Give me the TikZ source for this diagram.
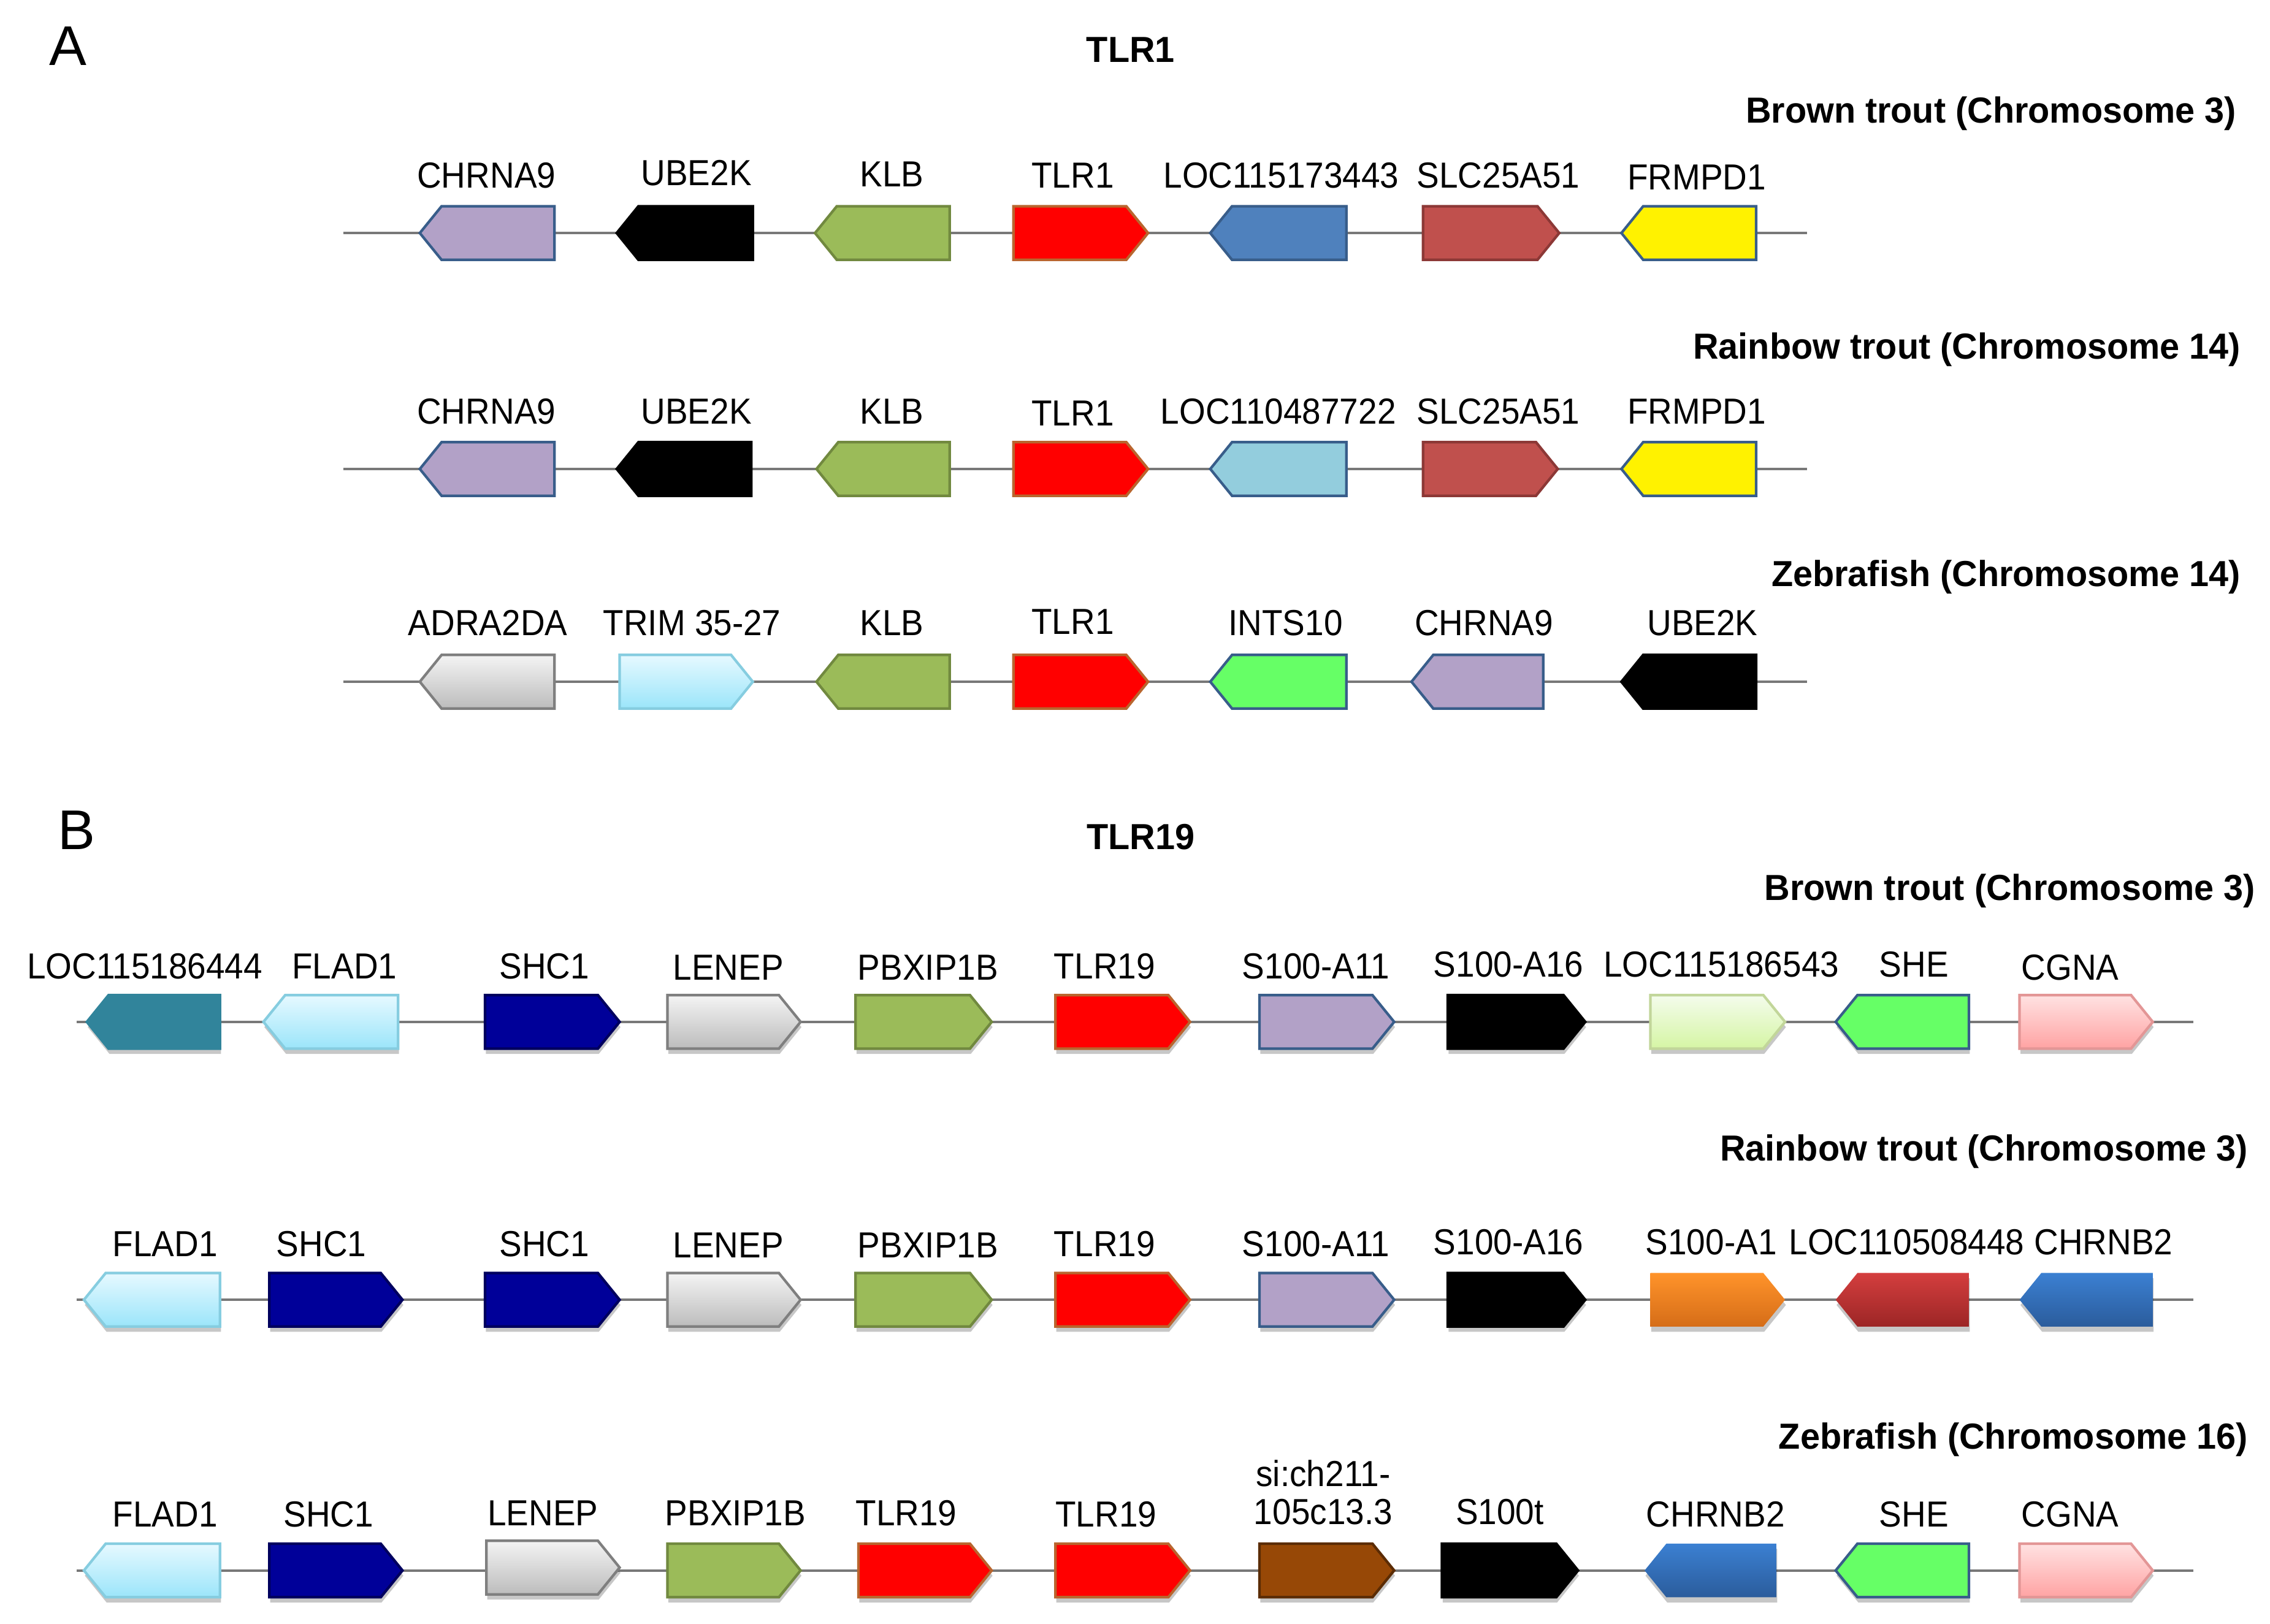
\documentclass[tikz,border=0pt]{standalone}
\usepackage{fontspec}
\setmainfont{Liberation Sans}
\newfontfamily\labfont[FakeStretch=0.93]{Liberation Sans}
\newfontfamily\ttlfont[FakeStretch=0.975]{Liberation Sans}
\usetikzlibrary{shadows}

\definecolor{lav}{HTML}{B2A1C7}
\definecolor{bdblue}{HTML}{385D8A}
\definecolor{klbg}{HTML}{9BBB59}
\definecolor{klbbd}{HTML}{71893F}
\definecolor{tlrbd}{HTML}{B9652E}
\definecolor{locblue}{HTML}{4F81BD}
\definecolor{slc}{HTML}{C0504D}
\definecolor{slcbd}{HTML}{8C3836}
\definecolor{ltblue}{HTML}{93CDDD}
\definecolor{ints}{HTML}{66FF66}
\definecolor{tealc}{HTML}{31849B}
\definecolor{navyc}{HTML}{000099}
\definecolor{navybd}{HTML}{00005E}
\definecolor{brownc}{HTML}{974806}
\definecolor{brownbd}{HTML}{5B2C04}
\definecolor{grayl}{HTML}{F4F4F4}
\definecolor{grayd}{HTML}{BCBCBC}
\definecolor{graybd}{HTML}{7F7F7F}
\definecolor{cyanl}{HTML}{E6F9FF}
\definecolor{cyand}{HTML}{9BE5FA}
\definecolor{cyanbd}{HTML}{86CDE0}
\definecolor{pgreenl}{HTML}{F4FCEC}
\definecolor{pgreend}{HTML}{D5F5A4}
\definecolor{pgreenbd}{HTML}{C2D69A}
\definecolor{pinkl}{HTML}{FFE2E2}
\definecolor{pinkd}{HTML}{FFA3A3}
\definecolor{pinkbd}{HTML}{E39696}
\definecolor{orangel}{HTML}{FF932A}
\definecolor{oranged}{HTML}{D56D18}
\definecolor{redl}{HTML}{D43E3E}
\definecolor{redd}{HTML}{9C2626}
\definecolor{bluel}{HTML}{3B80D2}
\definecolor{blued}{HTML}{2B5C9C}
\definecolor{linegray}{HTML}{787878}

% right-pointing gene: left x, tip x, centre y, style
\newcommand\geneR[4]{\path[#4] (#1,#3-18.5) -- (#2-15,#3-18.5) -- (#2,#3) -- (#2-15,#3+18.5) -- (#1,#3+18.5) -- cycle;}
% left-pointing gene: tip x, right x, centre y, style
\newcommand\geneL[4]{\path[#4] (#1,#3) -- (#1+15,#3-18.5) -- (#2,#3-18.5) -- (#2,#3+18.5) -- (#1+15,#3+18.5) -- cycle;}

\tikzset{
  gb/.style={line width=0.45mm, line join=miter},
  shd/.style={drop shadow={shadow xshift=0.15mm, shadow yshift=-0.9mm, opacity=0.22, fill=black}},
  glav/.style={gb, fill=lav, draw=bdblue},
  gblack/.style={gb, fill=black, draw=black},
  gklb/.style={gb, fill=klbg, draw=klbbd},
  gtlr/.style={gb, fill=red, draw=tlrbd},
  gloc/.style={gb, fill=locblue, draw=bdblue},
  gslc/.style={gb, fill=slc, draw=slcbd},
  gyel/.style={gb, fill=yellow, draw=bdblue},
  gltb/.style={gb, fill=ltblue, draw=bdblue},
  gints/.style={gb, fill=ints, draw=bdblue},
  ggray/.style={gb, top color=grayl, bottom color=grayd, draw=graybd},
  gcyan/.style={gb, top color=cyanl, bottom color=cyand, draw=cyanbd},
  gteal/.style={gb, fill=tealc, draw=tealc},
  gnavy/.style={gb, fill=navyc, draw=navybd},
  gpgreen/.style={gb, top color=pgreenl, bottom color=pgreend, draw=pgreenbd},
  gpink/.style={gb, top color=pinkl, bottom color=pinkd, draw=pinkbd},
  gorange/.style={top color=orangel, bottom color=oranged},
  gdred/.style={top color=redl, bottom color=redd},
  gblue/.style={top color=bluel, bottom color=blued},
  gbrown/.style={gb, fill=brownc, draw=brownbd},
  backbone/.style={draw=linegray, line width=0.42mm},
  lab/.style={font=\labfont\fontsize{17.8}{20}\selectfont, anchor=base, inner sep=0pt},
  ttl/.style={font=\ttlfont\bfseries\fontsize{17.8}{20}\selectfont, anchor=base east, inner sep=0pt},
  hd/.style={font=\ttlfont\bfseries\fontsize{17.8}{20}\selectfont, anchor=base, inner sep=0pt},
  panel/.style={font=\fontsize{27.5}{30}\selectfont, anchor=base, inner sep=0pt}
}

\begin{document}
\begin{tikzpicture}[x=0.25mm, y=-0.25mm]
\useasboundingbox[fill=white] (0,0) rectangle (1568,1122);

% ================= Panel A =================
\node[panel] (pA) at (47,45) {A};
\node[hd] (hA) at (781,43) {TLR1};

% --- Brown trout chr 3
\node[ttl] (tA1) at (1545,85) {Brown trout (Chromosome 3)};
\coordinate (a1s) at (237,161); \coordinate (a1e) at (1248,161);
\draw[backbone] (a1s) -- (a1e);
\geneL{290}{383}{161}{glav}
\geneL{426}{520}{161}{gblack}
\geneL{563}{656}{161}{gklb}
\geneR{700}{793}{161}{gtlr}
\geneL{836}{930}{161}{gloc}
\geneR{983}{1077}{161}{gslc}
\geneL{1120}{1213}{161}{gyel}
\node[lab] (a1n1) at (336,130) {CHRNA9};
\node[lab] (a1n2) at (481,128) {UBE2K};
\node[lab] (a1n3) at (616,129) {KLB};
\node[lab] (a1n4) at (741,130) {TLR1};
\node[lab] (a1n5) at (885,130) {LOC115173443};
\node[lab] (a1n6) at (1035,130) {SLC25A51};
\node[lab] (a1n7) at (1172,131) {FRMPD1};

% --- Rainbow trout chr 14
\node[ttl] (tA2) at (1548,248) {Rainbow trout (Chromosome 14)};
\coordinate (a2s) at (237,324); \coordinate (a2e) at (1248,324);
\draw[backbone] (a2s) -- (a2e);
\geneL{290}{383}{324}{glav}
\geneL{426}{519}{324}{gblack}
\geneL{564}{656}{324}{gklb}
\geneR{700}{793}{324}{gtlr}
\geneL{836}{930}{324}{gltb}
\geneR{983}{1076}{324}{gslc}
\geneL{1120}{1213}{324}{gyel}
\node[lab] (a2n1) at (336,293) {CHRNA9};
\node[lab] (a2n2) at (481,293) {UBE2K};
\node[lab] (a2n3) at (616,293) {KLB};
\node[lab] (a2n4) at (741,294) {TLR1};
\node[lab] (a2n5) at (883,293) {LOC110487722};
\node[lab] (a2n6) at (1035,293) {SLC25A51};
\node[lab] (a2n7) at (1172,293) {FRMPD1};

% --- Zebrafish chr 14
\node[ttl] (tA3) at (1548,405) {Zebrafish (Chromosome 14)};
\coordinate (a3s) at (237,471); \coordinate (a3e) at (1248,471);
\draw[backbone] (a3s) -- (a3e);
\geneL{290}{383}{471}{ggray}
\geneR{428}{520}{471}{gcyan}
\geneL{564}{656}{471}{gklb}
\geneR{700}{793}{471}{gtlr}
\geneL{836}{930}{471}{gints}
\geneL{975}{1066}{471}{glav}
\geneL{1120}{1213}{471}{gblack}
\node[lab] (a3n1) at (337,439) {ADRA2DA};
\node[lab] (a3n2) at (478,439) {TRIM 35-27};
\node[lab] (a3n3) at (616,439) {KLB};
\node[lab] (a3n4) at (741,438) {TLR1};
\node[lab] (a3n5) at (888,439) {INTS10};
\node[lab] (a3n6) at (1025,439) {CHRNA9};
\node[lab] (a3n7) at (1176,439) {UBE2K};

% ================= Panel B =================
\node[panel] (pB) at (53,587) {B};
\node[hd] (hB) at (788,587) {TLR19};

% --- Brown trout chr 3
\node[ttl] (tB1) at (1558,622) {Brown trout (Chromosome 3)};
\coordinate (b1s) at (53,706); \coordinate (b1e) at (1515,706);
\draw[backbone] (b1s) -- (b1e);
\geneL{60}{152}{706}{gteal,shd}
\geneL{182}{275}{706}{gcyan,shd}
\geneR{335}{428}{706}{gnavy,shd}
\geneR{461}{553}{706}{ggray,shd}
\geneR{591}{685}{706}{gklb,shd}
\geneR{729}{822}{706}{gtlr,shd}
\geneR{870}{963}{706}{glav,shd}
\geneR{1000}{1095}{706}{gblack,shd}
\geneR{1140}{1233}{706}{gpgreen,shd}
\geneL{1268}{1360}{706}{gints,shd}
\geneR{1395}{1487}{706}{gpink,shd}
\node[lab] (b1n1) at (100,676) {LOC115186444};
\node[lab] (b1n2) at (238,676) {FLAD1};
\node[lab] (b1n3) at (376,676) {SHC1};
\node[lab] (b1n4) at (503,677) {LENEP};
\node[lab] (b1n5) at (641,677) {PBXIP1B};
\node[lab] (b1n6) at (763,676) {TLR19};
\node[lab] (b1n7) at (909,676) {S100-A11};
\node[lab] (b1n8) at (1042,675) {S100-A16};
\node[lab] (b1n9) at (1189,675) {LOC115186543};
\node[lab] (b1n10) at (1322,675) {SHE};
\node[lab] (b1n11) at (1430,677) {CGNA};

% --- Rainbow trout chr 3
\node[ttl] (tB2) at (1553,802) {Rainbow trout (Chromosome 3)};
\coordinate (b2s) at (53,898); \coordinate (b2e) at (1515,898);
\draw[backbone] (b2s) -- (b2e);
\geneL{58}{152}{898}{gcyan,shd}
\geneR{186}{278}{898}{gnavy,shd}
\geneR{335}{428}{898}{gnavy,shd}
\geneR{461}{553}{898}{ggray,shd}
\geneR{591}{685}{898}{gklb,shd}
\geneR{729}{822}{898}{gtlr,shd}
\geneR{870}{963}{898}{glav,shd}
\geneR{1000}{1095}{898}{gblack,shd}
\geneR{1140}{1233}{898}{gorange,shd}
\geneL{1268}{1360}{898}{gdred,shd}
\geneL{1395}{1487}{898}{gblue,shd}
\node[lab] (b2n1) at (114,868) {FLAD1};
\node[lab] (b2n2) at (222,868) {SHC1};
\node[lab] (b2n3) at (376,868) {SHC1};
\node[lab] (b2n4) at (503,869) {LENEP};
\node[lab] (b2n5) at (641,869) {PBXIP1B};
\node[lab] (b2n6) at (763,868) {TLR19};
\node[lab] (b2n7) at (909,868) {S100-A11};
\node[lab] (b2n8) at (1042,867) {S100-A16};
\node[lab] (b2n9) at (1182,867) {S100-A1};
\node[lab] (b2n10) at (1317,867) {LOC110508448};
\node[lab] (b2n11) at (1453,867) {CHRNB2};

% --- Zebrafish chr 16
\node[ttl] (tB3) at (1553,1001) {Zebrafish (Chromosome 16)};
\coordinate (b3s) at (53,1085); \coordinate (b3e) at (1515,1085);
\draw[backbone] (b3s) -- (b3e);
\geneL{58}{152}{1085}{gcyan,shd}
\geneR{186}{278}{1085}{gnavy,shd}
\geneR{336}{428}{1083}{ggray,shd}
\geneR{461}{553}{1085}{gklb,shd}
\geneR{593}{685}{1085}{gtlr,shd}
\geneR{729}{822}{1085}{gtlr,shd}
\geneR{870}{963}{1085}{gbrown,shd}
\geneR{996}{1090}{1085}{gblack,shd}
\geneL{1136}{1227}{1085}{gblue,shd}
\geneL{1268}{1360}{1085}{gints,shd}
\geneR{1395}{1487}{1085}{gpink,shd}
\node[lab] (b3n1) at (114,1055) {FLAD1};
\node[lab] (b3n2) at (227,1055) {SHC1};
\node[lab] (b3n3) at (375,1054) {LENEP};
\node[lab] (b3n4) at (508,1054) {PBXIP1B};
\node[lab] (b3n5) at (626,1054) {TLR19};
\node[lab] (b3n6) at (764,1055) {TLR19};
\node[lab] (b3n7a) at (914,1027) {si:ch211-};
\node[lab] (b3n7b) at (914,1053) {105c13.3};
\node[lab] (b3n8) at (1036,1053) {S100t};
\node[lab] (b3n9) at (1185,1055) {CHRNB2};
\node[lab] (b3n10) at (1322,1055) {SHE};
\node[lab] (b3n11) at (1430,1055) {CGNA};
\end{tikzpicture}
\end{document}
